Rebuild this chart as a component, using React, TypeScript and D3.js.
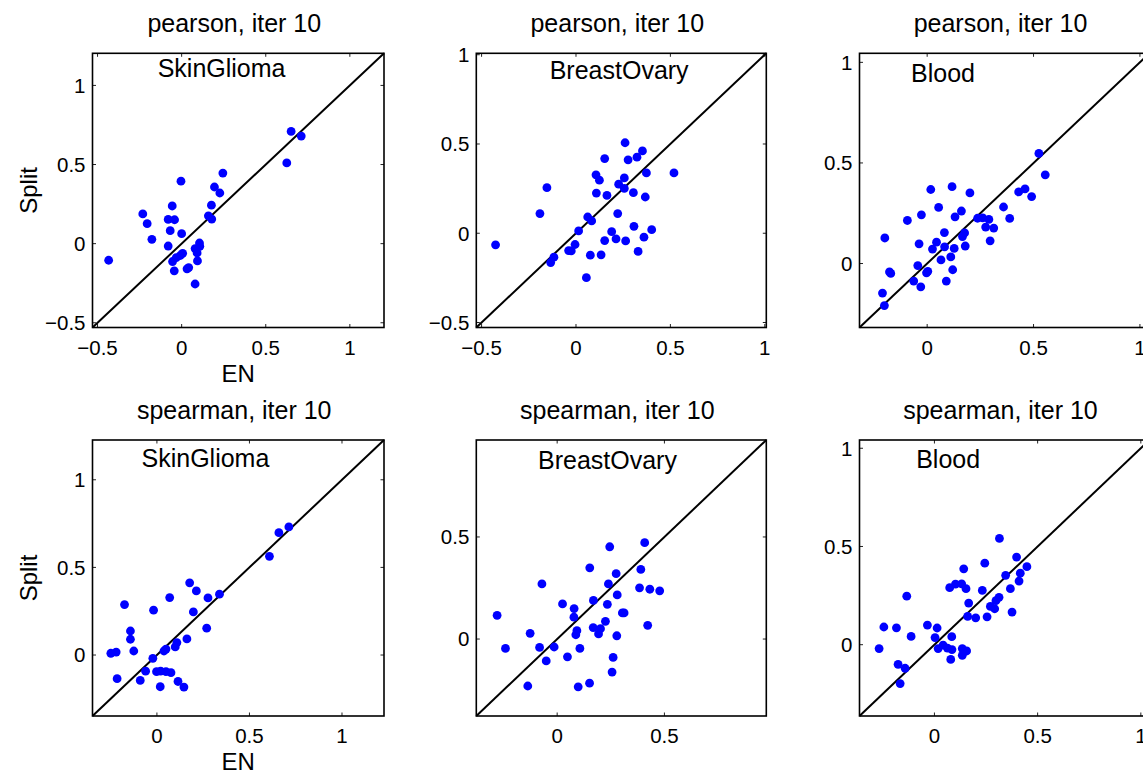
import React from 'react';
import * as d3 from 'd3';

// ---------- data ----------
const methods = ['pearson', 'spearman'];
const tissues = ['SkinGlioma', 'BreastOvary', 'Blood'];
const iterText = 'iter 10';
const xAxisLabel = 'EN';
const yAxisLabel = 'Split';

// [EN, Split] pairs
const pearsonSkinGlioma: [number, number][] = [
  [-0.434, -0.105], [0.651, 0.709], [0.711, 0.68], [0.625, 0.51], [0.245, 0.446],
  [-0.004, 0.395], [0.195, 0.358], [0.227, 0.32], [-0.056, 0.238], [0.177, 0.243],
  [-0.231, 0.188], [0.159, 0.176], [0.179, 0.155], [-0.08, 0.153], [-0.042, 0.151],
  [-0.205, 0.126], [-0.068, 0.082], [0.0, 0.063], [-0.177, 0.027], [0.106, 0.004],
  [-0.08, -0.015], [0.108, -0.017], [0.08, -0.031], [0.092, -0.059], [0.006, -0.061],
  [-0.008, -0.075], [-0.032, -0.088], [-0.054, -0.113], [0.094, -0.109], [0.042, -0.151],
  [0.032, -0.159], [-0.044, -0.172], [0.08, -0.255],
];
const pearsonBreastOvary: [number, number][] = [
  [-0.426, -0.065], [0.26, 0.507], [0.352, 0.461], [0.323, 0.426], [0.276, 0.411],
  [0.152, 0.418], [0.106, 0.327], [0.124, 0.297], [0.256, 0.31], [0.373, 0.338],
  [0.519, 0.338], [-0.154, 0.255], [0.226, 0.275], [0.256, 0.251], [0.108, 0.225],
  [0.164, 0.212], [0.304, 0.227], [0.367, 0.203], [-0.191, 0.11], [0.221, 0.11],
  [0.062, 0.091], [0.083, 0.069], [0.014, 0.013], [0.189, 0.009], [0.307, 0.039],
  [0.401, 0.02], [0.212, -0.032], [0.263, -0.043], [0.152, -0.041], [0.36, -0.022],
  [-0.005, -0.063], [-0.039, -0.097], [-0.025, -0.099], [-0.117, -0.134], [-0.134, -0.164],
  [0.076, -0.123], [0.133, -0.121], [0.329, -0.102], [0.055, -0.249],
];
const pearsonBlood: [number, number][] = [
  [0.525, 0.547], [0.555, 0.441], [0.46, 0.371], [0.43, 0.356], [0.491, 0.333],
  [0.017, 0.368], [0.117, 0.382], [0.201, 0.351], [0.054, 0.279], [0.161, 0.261],
  [0.359, 0.281], [-0.027, 0.242], [-0.093, 0.214], [0.131, 0.232], [0.237, 0.225],
  [0.261, 0.227], [0.29, 0.219], [0.388, 0.224], [0.275, 0.181], [0.313, 0.176],
  [-0.199, 0.127], [0.081, 0.154], [0.176, 0.152], [0.166, 0.134], [-0.038, 0.098],
  [0.044, 0.106], [0.296, 0.113], [0.025, 0.072], [0.082, 0.083], [0.127, 0.075],
  [0.179, 0.087], [0.111, 0.033], [0.065, 0.018], [-0.044, -0.01], [0.12, -0.031],
  [-0.171, -0.049], [-0.177, -0.042], [-0.003, -0.046], [0.003, -0.039], [-0.063, -0.087],
  [0.09, -0.087], [-0.03, -0.116], [-0.21, -0.147], [-0.201, -0.209],
];
const spearmanSkinGlioma: [number, number][] = [
  [0.713, 0.731], [0.659, 0.698], [0.608, 0.563], [0.177, 0.412], [0.213, 0.366],
  [0.338, 0.347], [0.069, 0.328], [0.276, 0.326], [-0.175, 0.288], [-0.018, 0.256],
  [0.197, 0.246], [0.269, 0.153], [-0.143, 0.137], [-0.143, 0.09], [0.162, 0.092],
  [0.108, 0.071], [0.099, 0.046], [0.049, 0.034], [0.038, 0.023], [-0.125, 0.023],
  [-0.249, 0.01], [-0.22, 0.017], [-0.022, -0.019], [-0.061, -0.092], [-0.002, -0.095],
  [0.02, -0.092], [0.049, -0.095], [0.076, -0.101], [-0.215, -0.135], [-0.09, -0.145],
  [0.114, -0.151], [0.018, -0.181], [0.146, -0.183],
];
const spearmanBreastOvary: [number, number][] = [
  [0.408, 0.472], [0.245, 0.452], [0.152, 0.349], [0.39, 0.341], [0.275, 0.32],
  [-0.071, 0.27], [0.239, 0.27], [0.384, 0.251], [0.432, 0.244], [0.478, 0.236],
  [0.28, 0.216], [0.169, 0.189], [0.025, 0.172], [0.234, 0.17], [0.079, 0.149],
  [0.312, 0.128], [0.304, 0.128], [-0.28, 0.116], [0.078, 0.107], [0.225, 0.087],
  [0.422, 0.067], [0.168, 0.056], [0.202, 0.051], [0.092, 0.041], [-0.126, 0.028],
  [0.087, 0.021], [0.193, 0.025], [0.278, 0.016], [-0.241, -0.046], [-0.082, -0.041],
  [-0.014, -0.039], [0.106, -0.046], [0.048, -0.087], [0.261, -0.09], [-0.051, -0.107],
  [0.256, -0.162], [0.151, -0.216], [-0.137, -0.23], [0.098, -0.234],
];
const spearmanBlood: [number, number][] = [
  [0.315, 0.541], [0.398, 0.446], [0.244, 0.415], [0.448, 0.397], [0.142, 0.386],
  [0.416, 0.364], [0.345, 0.353], [0.41, 0.324], [0.102, 0.308], [0.132, 0.31],
  [0.074, 0.29], [0.153, 0.285], [0.232, 0.276], [0.368, 0.285], [-0.134, 0.247],
  [0.313, 0.241], [0.298, 0.224], [0.166, 0.212], [0.271, 0.195], [0.292, 0.183],
  [0.376, 0.166], [0.161, 0.144], [0.2, 0.137], [0.255, 0.142], [-0.034, 0.1],
  [-0.245, 0.09], [-0.184, 0.086], [0.013, 0.085], [-0.113, 0.042], [0.003, 0.036],
  [0.084, 0.041], [0.042, -0.002], [0.018, -0.02], [0.063, -0.017], [0.085, -0.025],
  [0.135, -0.02], [0.156, -0.032], [-0.268, -0.02], [0.135, -0.054], [0.079, -0.075],
  [-0.176, -0.1], [-0.142, -0.12], [-0.166, -0.198],
];

const panelData = [
  [pearsonSkinGlioma, pearsonBreastOvary, pearsonBlood],
  [spearmanSkinGlioma, spearmanBreastOvary, spearmanBlood],
];

// axis limits (same for x and y in each panel)
const axisLimits: [number, number][][] = [
  [[-0.53, 1.203], [-0.528, 1.008], [-0.318, 1.045]],
  [[-0.348, 1.227], [-0.377, 0.975], [-0.363, 1.042]],
];
const tickValues: number[][][] = [
  [[-0.5, 0, 0.5, 1], [-0.5, 0, 0.5, 1], [0, 0.5, 1]],
  [[0, 0.5, 1], [0, 0.5], [0, 0.5, 1]],
];

// ---------- layout ----------
const W = 1143;
const H = 770;
const colLeft = [92.5, 476.3, 859.5];
const colWidth = [291.5, 290, 290];
const rowTop = [53.3, 440];
const rowHeight = [274.2, 276];
const annotOffset: [number, number][][] = [
  [[65.2, 23.6], [73.4, 26], [51.5, 29]],
  [[49, 26.7], [61.7, 29.3], [56.7, 28.3]],
];
const FONT = '"Liberation Sans", Arial, Helvetica, sans-serif';

const fmt = (d: number) => (d < 0 ? '\u2212' + Math.abs(d) : String(d));

function Panel({ r, c }: { r: number; c: number }) {
  const left = colLeft[c];
  const top = rowTop[r];
  const w = colWidth[c];
  const h = rowHeight[r];
  const [lo, hi] = axisLimits[r][c];
  const x = d3.scaleLinear().domain([lo, hi]).range([left, left + w]);
  const y = d3.scaleLinear().domain([lo, hi]).range([top + h, top]);
  const ticks = tickValues[r][c];
  const data = panelData[r][c];
  const tl = 3.5;
  const diag = d3.line<number>().x((d) => x(d)).y((d) => y(d))([lo, hi]) || '';
  return (
    <g>
      <text x={left + w / 2 - 4} y={top - 21} textAnchor="middle" fontSize={25} fontFamily={FONT} fill="#000">
        {`${methods[r]}, ${iterText}`}
      </text>
      <rect x={left} y={top} width={w} height={h} fill="#fff" stroke="none" />
      {ticks.map((t) => (
        <g key={'t' + t}>
          <line x1={x(t)} x2={x(t)} y1={top + h} y2={top + h - tl} stroke="#222" strokeWidth={1} />
          <line x1={x(t)} x2={x(t)} y1={top} y2={top + tl} stroke="#222" strokeWidth={1} />
          <line x1={left} x2={left + tl} y1={y(t)} y2={y(t)} stroke="#222" strokeWidth={1} />
          <line x1={left + w} x2={left + w - tl} y1={y(t)} y2={y(t)} stroke="#222" strokeWidth={1} />
          <text x={x(t)} y={top + h + 27} textAnchor="middle" fontSize={20.5} fontFamily={FONT} fill="#000">
            {fmt(t)}
          </text>
          <text x={left - 7} y={y(t) + 7.3} textAnchor="end" fontSize={20.5} fontFamily={FONT} fill="#000">
            {fmt(t)}
          </text>
        </g>
      ))}
      <path d={diag} stroke="#000" strokeWidth={2} fill="none" />
      {data.map((d, i) => (
        <circle key={i} cx={x(d[0])} cy={y(d[1])} r={4.4} fill="#0000ff" />
      ))}
      <rect x={left} y={top} width={w} height={h} fill="none" stroke="#000" strokeWidth={1.6} />
      <text
        x={left + annotOffset[r][c][0]}
        y={top + annotOffset[r][c][1]}
        fontSize={25}
        fontFamily={FONT}
        fill="#000"
      >
        {tissues[c]}
      </text>
      {c === 0 && (
        <>
          <text x={left + w / 2} y={top + h + 54} textAnchor="middle" fontSize={24} fontFamily={FONT} fill="#000">
            {xAxisLabel}
          </text>
          <text
            transform={`translate(37,${top + h / 2}) rotate(-90)`}
            textAnchor="middle"
            fontSize={24}
            fontFamily={FONT}
            fill="#000"
          >
            {yAxisLabel}
          </text>
        </>
      )}
    </g>
  );
}

export default function App() {
  return (
    <svg
      width={W}
      height={H}
      viewBox={`0 0 ${W} ${H}`}
      style={{ position: 'absolute', left: 0, top: 0, background: '#fff' }}
    >
      <rect x={0} y={0} width={W} height={H} fill="#fff" />
      {[0, 1].map((r) => [0, 1, 2].map((c) => <Panel key={`${r}-${c}`} r={r} c={c} />))}
    </svg>
  );
}
